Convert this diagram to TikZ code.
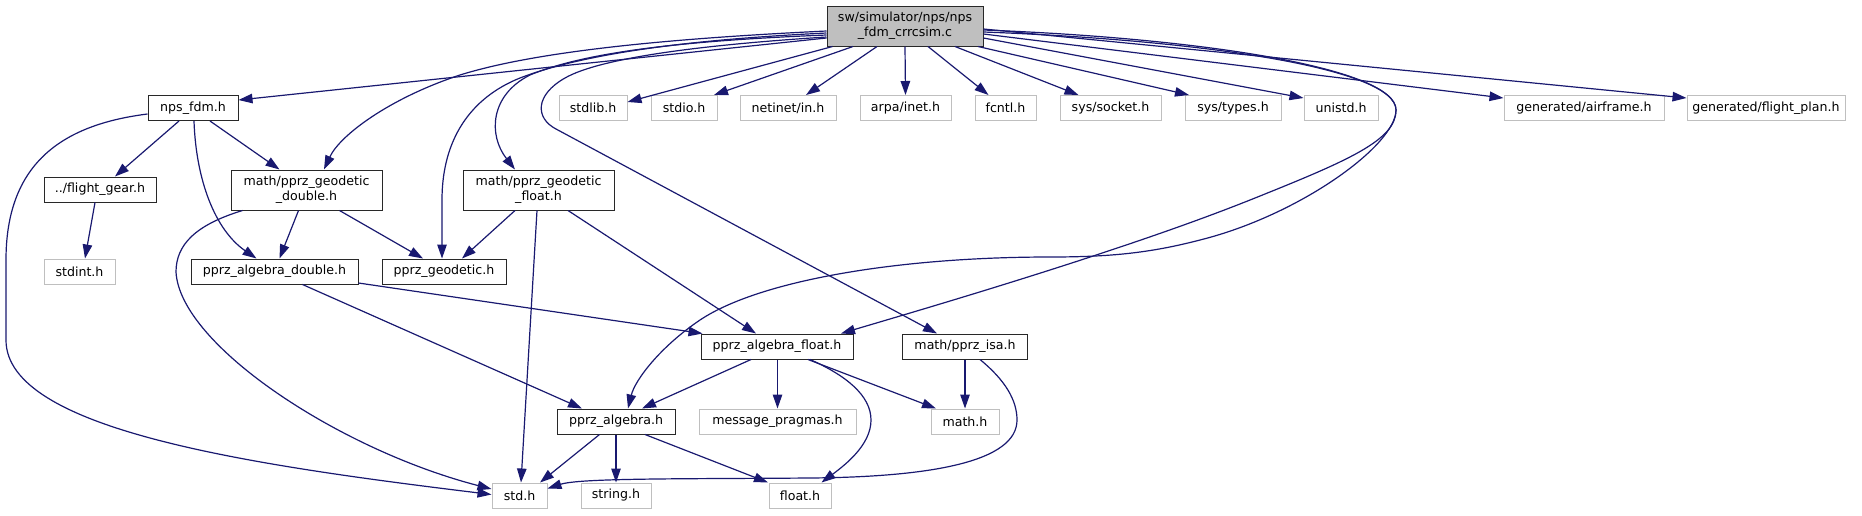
\documentclass[tikz,border=0pt]{standalone}
\usepackage{fontspec}
\setmainfont{DejaVu Sans}
\usetikzlibrary{arrows.meta,calc}
\definecolor{edgeblue}{RGB}{25,25,112}
\definecolor{grayfill}{RGB}{191,191,191}
\definecolor{grayline}{RGB}{191,191,191}
\definecolor{boxline}{RGB}{40,40,40}
\begin{document}
\begin{tikzpicture}[x=1pt,y=-1pt,
  hdr/.style={draw=boxline, line width=1pt, fill=white, inner sep=0pt, minimum height=25pt, font=\fontsize{12.6}{15}\selectfont},
  ext/.style={hdr, draw=grayline, line width=1pt},
  two/.style={minimum height=40pt, align=center},
  mainnode/.style={hdr, two, fill=grayfill},
  dep/.style={draw=edgeblue, line width=1.2pt, -{Triangle[length=14pt,width=9.5pt]}}]
\useasboundingbox (0,0) rectangle (1862,515);
% rank 0
\node[mainnode, minimum width=156pt] (main) at (905,26) {sw/simulator/nps/nps\\\_fdm\_crrcsim.c};
% rank 1
\node[hdr, minimum width=90pt] (nps) at (193,108) {nps\_fdm.h};
\node[ext, minimum width=68pt] (stdlib) at (593,108) {stdlib.h};
\node[ext, minimum width=66pt] (stdio) at (684,108) {stdio.h};
\node[ext, minimum width=96pt] (netinet) at (788,108) {netinet/in.h};
\node[ext, minimum width=91pt] (arpa) at (905.5,108) {arpa/inet.h};
\node[ext, minimum width=61pt] (fcntl) at (1005.5,108) {fcntl.h};
\node[ext, minimum width=101pt] (socket) at (1110.5,108) {sys/socket.h};
\node[ext, minimum width=96pt] (types) at (1233,108) {sys/types.h};
\node[ext, minimum width=74pt] (unistd) at (1341,108) {unistd.h};
\node[ext, minimum width=160pt] (airframe) at (1584,108) {generated/airframe.h};
\node[ext, minimum width=158pt] (fplan) at (1766,108) {generated/flight\_plan.h};
% rank 2
\node[hdr, minimum width=112pt] (fg) at (100,189.5) {../flight\_gear.h};
\node[hdr, two, minimum width=151pt] (gdouble) at (306.5,190) {math/pprz\_geodetic\\\_double.h};
\node[hdr, two, minimum width=151pt] (gfloat) at (538.5,190) {math/pprz\_geodetic\\\_float.h};
% rank 3
\node[ext, minimum width=71pt] (stdint) at (79.5,271.5) {stdint.h};
\node[hdr, minimum width=167pt] (adouble) at (274.5,271.5) {pprz\_algebra\_double.h};
\node[hdr, minimum width=124pt] (geod) at (444,271.5) {pprz\_geodetic.h};
% rank 4
\node[hdr, minimum width=152pt] (afloat) at (777,346.5) {pprz\_algebra\_float.h};
\node[hdr, minimum width=125.5pt] (isa) at (965,346.5) {math/pprz\_isa.h};
% rank 5
\node[hdr, minimum width=118pt] (alg) at (616,421.5) {pprz\_algebra.h};
\node[ext, minimum width=157pt] (msg) at (777.5,421.5) {message\_pragmas.h};
\node[ext, minimum width=68pt] (mathh) at (965,421.5) {math.h};
% rank 6
\node[ext, minimum width=55pt] (stdh) at (519.5,495.5) {std.h};
\node[ext, minimum width=70pt] (strh) at (616,495.5) {string.h};
\node[ext, minimum width=62pt] (floath) at (800,495.5) {float.h};
% edges from main, left side
\draw[dep] ($(main.west)+(0,12)$) -- ($(nps.east)+(0,-8)$);
\draw[dep] ($(main.west)+(0,5)$) .. controls (680,38) and (540,50) .. (460,75) .. controls (390,98) and (340,135) .. ($(gdouble.north)+(17.5,0)$);
\draw[dep] ($(main.west)+(0,7)$) .. controls (680,40) and (580,55) .. (520,78) .. controls (470,98) and (442,140) .. (442,200) -- ($(geod.north)+(-2,0)$);
\draw[dep] ($(main.west)+(0,9)$) .. controls (700,40) and (590,50) .. (530,75) .. controls (490,95) and (488,135) .. ($(gfloat.north)+(-23.5,0)$);
\draw[dep] ($(main.west)+(0,11)$) .. controls (700,45) and (600,58) .. (565,78) .. controls (535,95) and (535,118) .. (556,129) -- ($(isa.north)+(-28,0)$);
% edges from main, bottom
\draw[dep] ($(main.south west)+(6,0)$) -- ($(stdlib.east)+(0,-6)$);
\draw[dep] ($(main.south)+(-52,0)$) -- ($(stdio.north)+(30,0)$);
\draw[dep] ($(main.south)+(-28,0)$) -- ($(netinet.north)+(18,0)$);
\draw[dep] (main.south) -- (arpa.north);
\draw[dep] ($(main.south)+(23,0)$) -- ($(fcntl.north)+(-17,0)$);
\draw[dep] ($(main.south)+(50,0)$) -- ($(socket.north)+(-32,0)$);
\draw[dep] ($(main.south)+(73,0)$) -- ($(types.north)+(-44,0)$);
% edges from main, right side
\draw[dep] ($(main.east)+(0,12)$) -- ($(unistd.west)+(0,-10)$);
\draw[dep] ($(main.east)+(0,8)$) -- ($(airframe.west)+(0,-10)$);
\draw[dep] ($(main.east)+(0,3)$) -- ($(fplan.west)+(0,-10)$);
\draw[dep] ($(main.east)+(0,6)$) .. controls (1200,40) and (1396,68) .. (1396,110) .. controls (1396,140) and (1350,160) .. (1250,200) .. controls (1120,252) and (920,310) .. ($(afloat.north)+(64,0)$);
\draw[dep] ($(main.east)+(0,4)$) .. controls (1200,38) and (1396,68) .. (1396,110) .. controls (1396,145) and (1300,215) .. (1200,240) .. controls (1150,253) and (1110,257) .. (1050,257) .. controls (900,257) and (760,280) .. (700,320) .. controls (660,347) and (635,380) .. ($(alg.north)+(12,0)$);
% nps_fdm.h
\draw[dep] ($(nps.south)+(-14,0)$) -- ($(fg.north)+(15,0)$);
\draw[dep] ($(nps.south)+(17,0)$) -- ($(gdouble.north)+(-27,0)$);
\draw[dep] ($(nps.south)+(1,0)$) .. controls (196,180) and (215,230) .. ($(adouble.north)+(-18,0)$);
\draw[dep] ($(nps.west)+(0,6)$) .. controls (60,125) and (6,165) .. (6,260) -- (6,340) .. controls (6,430) and (250,465) .. ($(stdh.west)+(0,-1)$);
% flight_gear.h
\draw[dep] ($(fg.south)+(-5,0)$) -- ($(stdint.north)+(5.5,0)$);
% geodetic double
\draw[dep] ($(gdouble.south)+(-8,0)$) -- ($(adouble.north)+(5,0)$);
\draw[dep] ($(gdouble.south)+(33,0)$) -- ($(geod.north)+(-21,0)$);
\draw[dep] ($(gdouble.south)+(-64,0)$) .. controls (195,225) and (176,245) .. (176,272) .. controls (180,345) and (340,450) .. ($(stdh.west)+(0,-6.5)$);
% geodetic float
\draw[dep] ($(gfloat.south)+(-23.5,0)$) -- ($(geod.north)+(18,0)$);
\draw[dep] ($(gfloat.south)+(-1.5,0)$) -- ($(stdh.north)+(1.5,0)$);
\draw[dep] ($(gfloat.south)+(29.5,0)$) -- ($(afloat.north)+(-21,0)$);
% algebra double
\draw[dep] ($(adouble.south east)+(0,-1.5)$) -- ($(afloat.north west)+(2,0)$);
\draw[dep] ($(adouble.south)+(28,0)$) -- ($(alg.north)+(-34,0)$);
% algebra float
\draw[dep] ($(afloat.south)+(-26,0)$) -- ($(alg.north)+(26,0)$);
\draw[dep] ($(afloat.south)+(0.5,0)$) -- (msg.north);
\draw[dep] ($(afloat.south)+(31,0)$) -- ($(mathh.north)+(-29,0)$);
\draw[dep] ($(afloat.south)+(33,0)$) .. controls (845,375) and (871,395) .. (871,420) .. controls (871,445) and (845,465) .. ($(floath.north)+(21.5,0)$);
% pprz_isa
\draw[dep] (isa.south) -- (mathh.north);
\draw[dep] ($(isa.south)+(15,0)$) .. controls (1005,380) and (1017,400) .. (1017,420) .. controls (1017,462) and (930,477) .. (810,478) .. controls (680,479) and (580,478) .. ($(stdh.east)+(0,-7)$);
% pprz_algebra
\draw[dep] ($(alg.south)+(-16.5,0)$) -- ($(stdh.north)+(20.5,0)$);
\draw[dep] (alg.south) -- (strh.north);
\draw[dep] ($(alg.south)+(29,0)$) -- ($(floath.north)+(-32,0)$);
\end{tikzpicture}
\end{document}
